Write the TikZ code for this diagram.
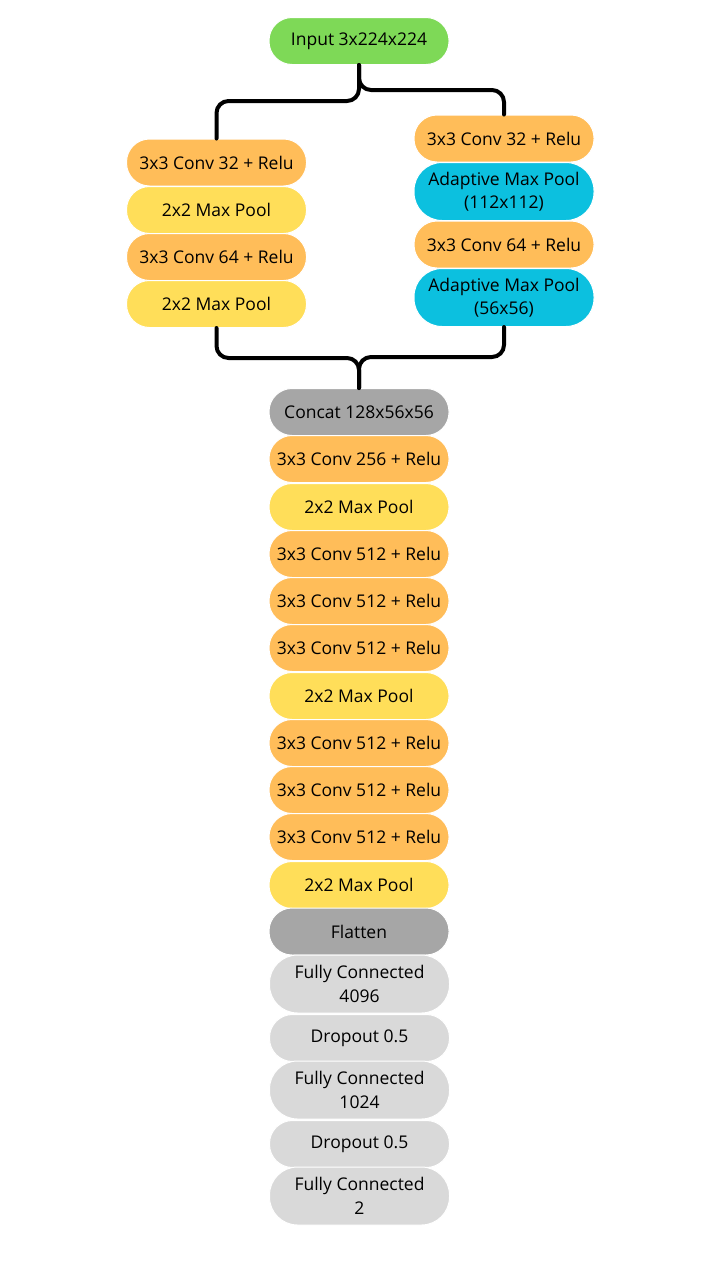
\documentclass[tikz,border=0pt]{standalone}
\usepackage{fontspec}
\setmainfont{Open Sans}
\definecolor{cgreen}{HTML}{7ED957}
\definecolor{corange}{HTML}{FFBD59}
\definecolor{cyellow}{HTML}{FFDE59}
\definecolor{ccyan}{HTML}{0CC0DF}
\definecolor{cgray}{HTML}{A6A6A6}
\definecolor{clight}{HTML}{D9D9D9}
\tikzset{
  layer/.style={draw=white, line width=1pt, rounded corners=23pt, minimum width=180pt,
    minimum height=47pt, inner sep=0pt, align=center,
    font=\fontsize{17.5}{23.5}\selectfont, text=black},
  tall/.style={minimum height=58pt, rounded corners=28pt},
  conv/.style={layer, fill=corange},
  pool/.style={layer, fill=cyellow},
  apool/.style={layer, tall, fill=ccyan},
  inp/.style={layer, fill=cgreen},
  dark/.style={layer, fill=cgray},
  light/.style={layer, fill=clight},
  wire/.style={line width=4pt, rounded corners=12pt, line cap=round}
}
\begin{document}
\begin{tikzpicture}[x=1pt, y=-1pt]
\useasboundingbox[fill=white] (0,0) rectangle (720,1280);
\node[inp] (in) at (359,41) {Input 3x224x224};
\node[conv] (l1) at (216.5,162.5) {3x3 Conv 32 + Relu};
\node[pool] (l2) at (216.5,210) {2x2 Max Pool};
\node[conv] (l3) at (216.5,257) {3x3 Conv 64 + Relu};
\node[pool] (l4) at (216.5,304) {2x2 Max Pool};
\node[conv] (r1) at (504,138.5) {3x3 Conv 32 + Relu};
\node[apool] (r2) at (504,191.5) {Adaptive Max Pool\\(112x112)};
\node[conv] (r3) at (504,244.5) {3x3 Conv 64 + Relu};
\node[apool] (r4) at (504,297.5) {Adaptive Max Pool\\(56x56)};
\node[dark] (m1) at (359,412) {Concat 128x56x56};
\node[conv] (m2) at (359,459) {3x3 Conv 256 + Relu};
\node[pool] (m3) at (359,507) {2x2 Max Pool};
\node[conv] (m4) at (359,554) {3x3 Conv 512 + Relu};
\node[conv] (m5) at (359,601) {3x3 Conv 512 + Relu};
\node[conv] (m6) at (359,648) {3x3 Conv 512 + Relu};
\node[pool] (m7) at (359,696) {2x2 Max Pool};
\node[conv] (m8) at (359,743) {3x3 Conv 512 + Relu};
\node[conv] (m9) at (359,790) {3x3 Conv 512 + Relu};
\node[conv] (m10) at (359,837) {3x3 Conv 512 + Relu};
\node[pool] (m11) at (359,885) {2x2 Max Pool};
\node[dark] (m12) at (359,931.5) {Flatten};
\node[light, tall] (m13) at (359.5,984) {Fully Connected\\4096};
\node[light] (m14) at (359.5,1038) {Dropout 0.5};
\node[light, tall] (m15) at (359.5,1090) {Fully Connected\\1024};
\node[light] (m16) at (359.5,1144) {Dropout 0.5};
\node[light, tall] (m17) at (359.5,1196) {Fully Connected\\2};
\draw[wire] (in.south) -- ++(0,36) -| (l1.north);
\draw[wire] (in.south) -- ++(0,25) -| (r1.north);
\draw[wire] (l4.south) -- ++(0,30) -| (m1.north);
\draw[wire] (r4.south) -- ++(0,30) -| (m1.north);
\end{tikzpicture}
\end{document}
